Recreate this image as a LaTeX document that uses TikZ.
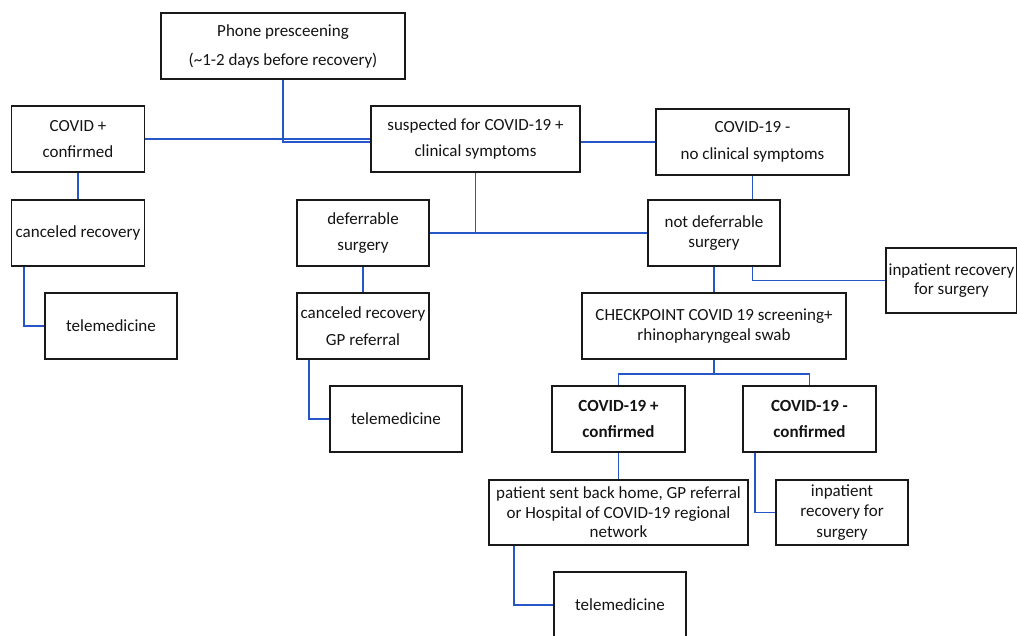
\documentclass[tikz,border=0pt]{standalone}
\usepackage{fontspec}
\setmainfont{Carlito}
\usetikzlibrary{calc}

\definecolor{mylink}{RGB}{38,86,200}
\definecolor{myframe}{RGB}{25,25,25}

\begin{document}
\begin{tikzpicture}[
    x=1pt, y=-1pt,
    box/.style={draw=myframe, line width=1.8pt, align=center, inner sep=0pt,
        text=black!92, font=\fontsize{17}{26.5}\selectfont},
    tight/.style={font=\fontsize{17}{19.5}\selectfont},
    link/.style={draw=mylink, line width=1.8pt}
]
\clip (0,0) rectangle (1017,635);
\fill[white] (0,0) rectangle (1017,635);

% boxes
\node[box, minimum width=244, minimum height=66, font=\fontsize{17}{29}\selectfont]
    (phone) at (283,46) {Phone presceening\\(\textasciitilde 1-2 days before recovery)};
\node[box, minimum width=133, minimum height=66] (covpos) at (78,139) {COVID +\\confirmed};
\node[box, minimum width=209, minimum height=66] (susp) at (475.5,139) {suspected for COVID-19 +\\clinical symptoms};
\node[box, minimum width=193, minimum height=66] (cminus) at (752.5,142) {COVID-19 -\\no clinical symptoms};

\node[box, minimum width=133, minimum height=66] (cancela) at (78,233) {canceled recovery};
\node[box, minimum width=132, minimum height=66] (telea) at (111,326) {telemedicine};

\node[box, minimum width=132, minimum height=66] (defer) at (363,233) {deferrable\\surgery};
\node[box, minimum width=132, minimum height=66] (cancelb) at (363,326) {canceled recovery\\GP referral};
\node[box, minimum width=132, minimum height=66] (teleb) at (396,419) {telemedicine};

\node[box, tight, minimum width=132, minimum height=66] (notdef) at (714,233) {not deferrable\\surgery};
\node[box, tight, minimum width=131, minimum height=65] (inpata) at (951.5,280.5) {inpatient recovery\\for surgery};
\node[box, tight, minimum width=264, minimum height=66] (check) at (714,326) {CHECKPOINT COVID 19 screening+\\rhinopharyngeal swab};

\node[box, minimum width=133, minimum height=66, font=\fontsize{17}{26}\selectfont\bfseries]
    (cpos) at (618.5,419) {COVID-19 +\\confirmed};
\node[box, minimum width=133, minimum height=66, font=\fontsize{17}{26}\selectfont\bfseries]
    (cneg) at (809.5,419) {COVID-19 -\\confirmed};

\node[box, tight, minimum width=259, minimum height=65] (patient) at (618.5,512.5)
    {patient sent back home, GP referral\\or Hospital of COVID-19 regional\\network};
\node[box, font=\fontsize{17}{20.5}\selectfont, minimum width=132, minimum height=65]
    (inpatb) at (842,512.5) {inpatient\\recovery for\\surgery};
\node[box, minimum width=132, minimum height=66] (telec) at (620,605) {telemedicine};

% links
\draw[link] (covpos.east) -- (susp.west);
\draw[link] (phone.south) |- ([yshift=-3pt]susp.west);
\draw[link] ([yshift=-3pt]susp.east) -- (cminus.west);
\draw[link] (covpos.south) -- (cancela.north);
\draw[link] ([xshift=13pt]cancela.south west) |- (telea.west);

\draw[link] (susp.south) -- (susp.south |- defer.east);
\draw[link] (defer.east) -- (notdef.west);
\draw[link] (defer.south) -- (cancelb.north);
\draw[link] ([xshift=13pt]cancelb.south west) |- (teleb.west);

\draw[link] (cminus.south) -- (cminus.south |- notdef.north);
\draw[link] (notdef.south -| cminus.south) |- (inpata.west);
\draw[link] (notdef.south) -- (check.north);

\coordinate (split) at ($(check.south)+(0,14)$);
\draw[link] (check.south) -- (split);
\draw[link] (cpos.north) |- (split) -| (cneg.north);

\draw[link] (cpos.south) -- (patient.north);
\draw[link] ([xshift=13pt]cneg.south west) |- (inpatb.west);
\draw[link] ([xshift=26pt]patient.south west) |- (telec.west);

\end{tikzpicture}
\end{document}
